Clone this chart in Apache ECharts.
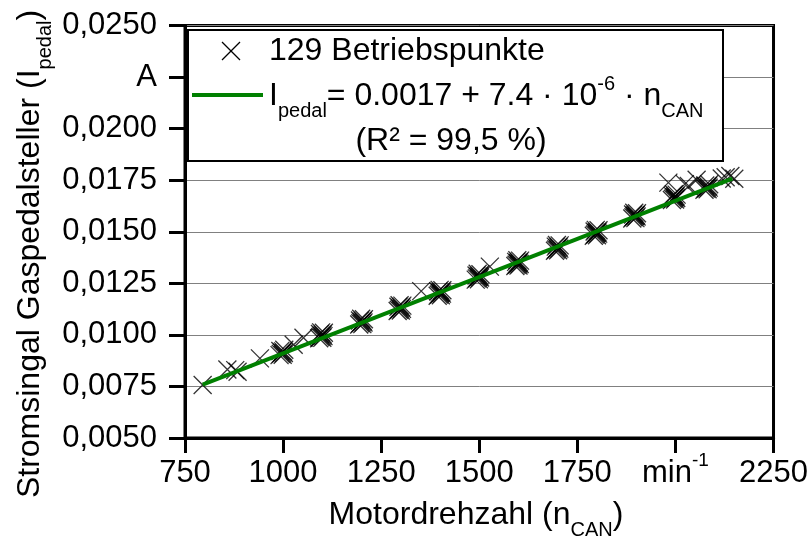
<!DOCTYPE html>
<html>
<head>
<meta charset="utf-8">
<script src="https://cdn.jsdelivr.net/npm/echarts@6/dist/echarts.min.js"></script>
<style>
html, body { margin: 0; padding: 0; background: #fff; }
#chart { width: 811px; height: 536px; }
</style>
</head>
<body>
<div id="chart"></div>
<script>
const FONT = '"Liberation Sans", Arial, sans-serif';

// Engine speed n_CAN (1/min) of the 129 operating points
const speedRpm = [
  795, 858, 878, 884, 941, 1027, 1052, 1352, 1527, 1982, 2024, 2034, 2054, 2118, 2128, 2140, 2150,
  991, 994, 997, 1000, 1003, 993, 999, 1002,
  1092, 1095, 1098, 1101, 1104, 1094, 1100, 1103, 1097,
  1194, 1197, 1200, 1203, 1206, 1196, 1202, 1205, 1199,
  1292, 1295, 1298, 1301, 1304, 1294, 1300, 1303, 1297,
  1394, 1397, 1400, 1403, 1406, 1396, 1402, 1405, 1399, 1401,
  1491, 1494, 1497, 1500, 1503, 1493, 1499, 1502, 1496, 1498,
  1592, 1595, 1598, 1601, 1604, 1594, 1600, 1603, 1597, 1599,
  1693, 1696, 1699, 1702, 1705, 1695, 1701, 1704, 1698,
  1792, 1795, 1798, 1801, 1804, 1794, 1800, 1803, 1797, 1799,
  1890, 1893, 1896, 1899, 1902, 1892, 1898, 1901, 1895, 1897,
  1991, 1994, 1997, 2000, 2003, 1993, 1999, 2002, 1996, 1998,
  2074, 2077, 2080, 2083, 2086, 2076, 2082, 2085
];

// Pedal sensor current I_pedal (A) for the same points
const currentA = [
  0.00757, 0.00832, 0.00829, 0.00821, 0.00886, 0.00952, 0.00986, 0.01212, 0.01331, 0.01738, 0.01731, 0.01722, 0.01752, 0.01758, 0.01764, 0.01770, 0.01757,
  0.00902, 0.00908, 0.00914, 0.00920, 0.00928, 0.00922, 0.00904, 0.00912,
  0.00984, 0.00990, 0.00996, 0.01002, 0.01010, 0.01004, 0.00986, 0.00994, 0.01012,
  0.01050, 0.01056, 0.01062, 0.01068, 0.01076, 0.01070, 0.01052, 0.01060, 0.01078,
  0.01116, 0.01122, 0.01128, 0.01134, 0.01142, 0.01136, 0.01118, 0.01126, 0.01144,
  0.01190, 0.01196, 0.01202, 0.01208, 0.01216, 0.01210, 0.01192, 0.01200, 0.01218, 0.01204,
  0.01268, 0.01274, 0.01280, 0.01286, 0.01294, 0.01288, 0.01270, 0.01278, 0.01296, 0.01282,
  0.01334, 0.01340, 0.01346, 0.01352, 0.01360, 0.01354, 0.01336, 0.01344, 0.01362, 0.01348,
  0.01408, 0.01414, 0.01420, 0.01426, 0.01434, 0.01428, 0.01410, 0.01418, 0.01436,
  0.01481, 0.01487, 0.01493, 0.01499, 0.01507, 0.01501, 0.01483, 0.01491, 0.01509, 0.01495,
  0.01564, 0.01570, 0.01576, 0.01582, 0.01590, 0.01584, 0.01566, 0.01574, 0.01592, 0.01578,
  0.01654, 0.01660, 0.01666, 0.01672, 0.01680, 0.01674, 0.01656, 0.01664, 0.01682, 0.01668,
  0.01704, 0.01710, 0.01716, 0.01722, 0.01730, 0.01724, 0.01706, 0.01714
];

// Linear fit stated in the legend: I = 0.0017 + 7.4e-6 * n
const fitIntercept = 0.0017;
const fitSlope = 7.4e-6;
const fitRangeRpm = [795, 2145];

// Axis tick labels
const xTickLabels = ['750', '1000', '1250', '1500', '1750', 'min{sup|-1}', '2250'];
const yTickLabels = ['0,0050', '0,0075', '0,0100', '0,0125', '0,0150', '0,0175', '0,0200', 'A', '0,0250'];

const X_MIN = 750, X_MAX = 2250, X_STEP = 250;
const Y_MIN = 0.005, Y_MAX = 0.025, Y_STEP = 0.0025;

const points = speedRpm.map((n, i) => [n, currentA[i]]);
const fitLine = fitRangeRpm.map(n => [n, fitIntercept + fitSlope * n]);

const subRich = { fontSize: 20, fontFamily: FONT, fill: '#000', color: '#000', padding: [30, 0, 0, 0] };
const supRich = { fontSize: 20, fontFamily: FONT, fill: '#000', color: '#000', padding: [0, 0, 24, 0] };
const tickSupRich = { fontSize: 19, fontFamily: FONT, color: '#000', padding: [0, 0, 24, 0] };

const chart = echarts.init(document.getElementById('chart'), null, { renderer: 'canvas' });

chart.setOption({
  animation: false,
  backgroundColor: '#fff',
  grid: {
    left: 185, right: 37, top: 25.5, bottom: 98,
    show: true, borderColor: '#000', borderWidth: 3
  },
  xAxis: {
    type: 'value', min: X_MIN, max: X_MAX, interval: X_STEP,
    axisLine: { lineStyle: { color: '#000', width: 3 } },
    axisTick: { length: 15, lineStyle: { color: '#000', width: 3 } },
    axisLabel: {
      color: '#000', fontSize: 31, fontFamily: FONT, margin: 13, lineHeight: 44,
      formatter: v => xTickLabels[Math.round((v - X_MIN) / X_STEP)],
      rich: { sup: tickSupRich }
    },
    splitLine: { show: false }
  },
  yAxis: {
    type: 'value', min: Y_MIN, max: Y_MAX, interval: Y_STEP,
    axisLine: { lineStyle: { color: '#000', width: 3 } },
    axisTick: { length: 16, lineStyle: { color: '#000', width: 3 } },
    axisLabel: {
      color: '#000', fontSize: 31, fontFamily: FONT, margin: 28,
      formatter: v => yTickLabels[Math.round((v - Y_MIN) / Y_STEP)]
    },
    splitLine: { lineStyle: { color: '#808080', width: 1 } }
  },
  series: [
    {
      name: '129 Betriebspunkte',
      type: 'scatter',
      data: points,
      symbol: 'path://M0,0L10,10M10,0L0,10',
      symbolSize: 18,
      itemStyle: { color: 'rgba(0,0,0,0)', borderColor: '#000', borderWidth: 1.3 },
      emphasis: { disabled: true },
      silent: true
    },
    {
      name: 'Regression',
      type: 'line',
      data: fitLine,
      showSymbol: false,
      lineStyle: { color: '#008000', width: 4 },
      emphasis: { disabled: true },
      silent: true
    }
  ],
  graphic: [
    // axis titles
    {
      type: 'text', x: 30, y: 254, rotation: Math.PI / 2, z: 100, silent: true,
      style: {
        text: 'Stromsingal Gaspedalsteller (I{sub|pedal})',
        fontSize: 32, fontFamily: FONT, fill: '#000', lineHeight: 36,
        align: 'center', verticalAlign: 'middle',
        rich: { sub: subRich }
      }
    },
    {
      type: 'text', x: 476, y: 515, z: 100, silent: true,
      style: {
        text: 'Motordrehzahl (n{sub|CAN})',
        fontSize: 32, fontFamily: FONT, fill: '#000', lineHeight: 36,
        align: 'center', verticalAlign: 'middle',
        rich: { sub: subRich }
      }
    },
    // legend box
    {
      type: 'rect', z: 100, silent: true,
      shape: { x: 188, y: 30, width: 535, height: 131 },
      style: { fill: '#fff', stroke: '#000', lineWidth: 2 }
    },
    {
      type: 'line', z: 101, silent: true,
      shape: { x1: 222, y1: 42, x2: 240, y2: 60 },
      style: { stroke: '#000', lineWidth: 1.2 }
    },
    {
      type: 'line', z: 101, silent: true,
      shape: { x1: 240, y1: 42, x2: 222, y2: 60 },
      style: { stroke: '#000', lineWidth: 1.2 }
    },
    {
      type: 'text', x: 269, y: 51, z: 101, silent: true,
      style: {
        text: '129 Betriebspunkte',
        fontSize: 32, fontFamily: FONT, fill: '#000',
        align: 'left', verticalAlign: 'middle'
      }
    },
    {
      type: 'line', z: 101, silent: true,
      shape: { x1: 192, y1: 95, x2: 263, y2: 95 },
      style: { stroke: '#008000', lineWidth: 4 }
    },
    {
      type: 'text', x: 269, y: 96, z: 101, silent: true,
      style: {
        text: 'I{sub|pedal}= 0.0017 + 7.4 · 10{sup|-6} · n{sub|CAN}',
        fontSize: 32, fontFamily: FONT, fill: '#000', lineHeight: 36,
        align: 'left', verticalAlign: 'middle',
        rich: { sub: subRich, sup: supRich }
      }
    },
    {
      type: 'text', x: 451, y: 141, z: 101, silent: true,
      style: {
        text: '(R² = 99,5 %)',
        fontSize: 32, fontFamily: FONT, fill: '#000',
        align: 'center', verticalAlign: 'middle'
      }
    }
  ]
});
</script>
</body>
</html>
